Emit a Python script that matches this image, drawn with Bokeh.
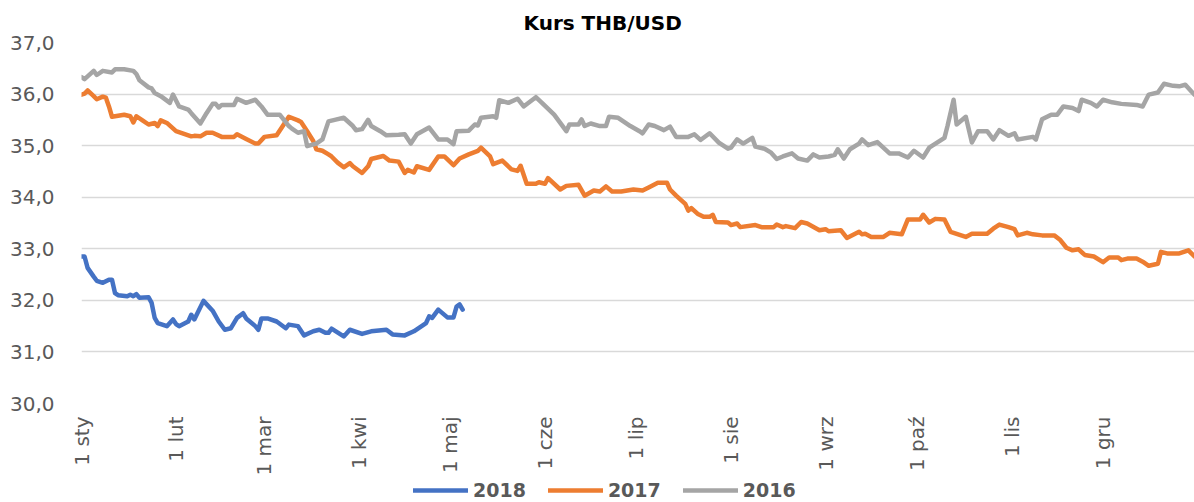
import math
from bokeh.plotting import figure
from bokeh.layouts import column
from bokeh.models import Range1d, FixedTicker, Legend, LegendItem
from bokeh.embed import file_html
from bokeh.resources import INLINE

# ---- axis categories / tick labels ----
month_days = [0, 31, 60, 91, 121, 152, 182, 213, 244, 274, 305, 335]
month_labels = ["1 sty", "1 lut", "1 mar", "1 kwi", "1 maj", "1 cze",
                "1 lip", "1 sie", "1 wrz", "1 paź", "1 lis", "1 gru"]
y_ticks = [30, 31, 32, 33, 34, 35, 36, 37]
y_tick_labels = ["30,0", "31,0", "32,0", "33,0", "34,0", "35,0", "36,0", "37,0"]

# ---- series (day of year, THB per USD) ----
days_2016 = [0, 1, 4, 5, 7, 10, 11, 14, 17, 18, 19, 22, 23, 24, 26, 29, 30, 32, 35, 36,
             39, 41, 43, 44, 45, 46, 50, 51, 54, 57, 59, 61, 65, 68, 69, 71, 73, 74, 77, 79,
             81, 83, 86, 89, 90, 92, 94, 95, 98, 100, 104, 106, 108, 110, 114, 117, 120, 122, 123, 127,
             129, 130, 131, 135, 136, 137, 140, 143, 145, 149, 151, 155, 159, 160, 163, 164, 165, 167, 170, 172,
             173, 176, 180, 183, 184, 186, 188, 191, 193, 195, 199, 201, 203, 206, 209, 212, 213, 215, 217, 220,
             221, 224, 226, 228, 230, 233, 235, 238, 240, 242, 245, 247, 248, 250, 252, 255, 256, 258, 261, 265,
             268, 271, 273, 276, 278, 283, 284, 286, 287, 290, 292, 294, 297, 299, 301, 304, 306, 307, 312, 313,
             315, 318, 320, 322, 325, 327, 328, 331, 333, 335, 338, 341, 346, 348, 350, 353, 355, 358, 360, 362,
             364, 365]
vals_2016 = [36.33, 36.29, 36.45, 36.37, 36.45, 36.42, 36.48, 36.48, 36.45, 36.39,
             36.27, 36.13, 36.11, 36.02, 35.96, 35.83, 35.99, 35.76, 35.70, 35.63,
             35.43, 35.63, 35.81, 35.81, 35.74, 35.79, 35.79, 35.91, 35.83, 35.89,
             35.76, 35.60, 35.60, 35.38, 35.33, 35.25, 35.28, 34.99, 35.04, 35.12,
             35.47, 35.50, 35.54, 35.38, 35.30, 35.32, 35.50, 35.38, 35.28, 35.20,
             35.21, 35.22, 35.04, 35.22, 35.35, 35.12, 35.12, 35.03, 35.28, 35.29,
             35.41, 35.39, 35.54, 35.57, 35.54, 35.88, 35.83, 35.91, 35.76, 35.94,
             35.83, 35.60, 35.28, 35.41, 35.41, 35.51, 35.38, 35.43, 35.38, 35.38,
             35.56, 35.54, 35.38, 35.28, 35.24, 35.41, 35.38, 35.30, 35.37, 35.17,
             35.17, 35.22, 35.11, 35.24, 35.06, 34.94, 34.96, 35.12, 35.04, 35.15,
             34.98, 34.94, 34.87, 34.74, 34.79, 34.85, 34.75, 34.71, 34.83, 34.77,
             34.79, 34.82, 34.93, 34.75, 34.93, 35.04, 35.12, 35.01, 35.07, 34.85,
             34.85, 34.77, 34.90, 34.77, 34.96, 35.15, 35.38, 35.89, 35.41, 35.56,
             35.06, 35.28, 35.28, 35.12, 35.30, 35.19, 35.24, 35.12, 35.17, 35.12,
             35.51, 35.60, 35.60, 35.76, 35.73, 35.67, 35.89, 35.83, 35.76, 35.89,
             35.84, 35.81, 35.79, 35.76, 35.99, 36.03, 36.20, 36.16, 36.15, 36.18,
             36.05, 35.99]

days_2017 = [0, 1, 2, 4, 5, 7, 8, 9, 10, 14, 16, 17, 18, 20, 22, 24, 25, 26, 28, 31,
             36, 37, 39, 41, 43, 46, 50, 51, 54, 57, 58, 60, 64, 66, 68, 71, 72, 74, 76, 77,
             79, 81, 82, 84, 86, 88, 89, 92, 94, 95, 99, 101, 104, 106, 107, 109, 110, 114, 117, 119,
             122, 124, 127, 130, 131, 134, 135, 138, 141, 143, 144, 146, 149, 150, 152, 153, 157, 159, 163, 165,
             168, 170, 172, 174, 177, 181, 184, 186, 189, 192, 193, 195, 198, 199, 200, 202, 204, 206, 207, 208,
             212, 213, 215, 216, 221, 223, 227, 228, 230, 231, 234, 236, 238, 242, 244, 245, 249, 251, 255, 256,
             257, 259, 263, 265, 269, 271, 275, 276, 278, 280, 283, 285, 287, 290, 292, 297, 299, 301, 304, 306,
             307, 310, 312, 315, 319, 321, 323, 325, 327, 329, 332, 335, 337, 340, 341, 343, 346, 348, 350, 353,
             354, 356, 360, 363, 365]
vals_2017 = [35.99, 36.01, 36.07, 35.96, 35.90, 35.95, 35.93, 35.76, 35.56, 35.60,
             35.57, 35.45, 35.57, 35.49, 35.41, 35.44, 35.38, 35.49, 35.44, 35.28,
             35.18, 35.19, 35.18, 35.25, 35.25, 35.17, 35.17, 35.22, 35.13, 35.04,
             35.04, 35.17, 35.20, 35.38, 35.56, 35.49, 35.46, 35.28, 35.09, 34.93,
             34.90, 34.83, 34.79, 34.67, 34.58, 34.66, 34.60, 34.47, 34.60, 34.74,
             34.80, 34.71, 34.69, 34.47, 34.53, 34.48, 34.60, 34.53, 34.79, 34.79,
             34.62, 34.75, 34.83, 34.90, 34.96, 34.79, 34.64, 34.71, 34.54, 34.51,
             34.61, 34.26, 34.26, 34.29, 34.26, 34.37, 34.15, 34.22, 34.24, 34.03,
             34.13, 34.11, 34.21, 34.11, 34.11, 34.15, 34.13, 34.19, 34.28, 34.28,
             34.15, 34.03, 33.87, 33.74, 33.79, 33.68, 33.62, 33.62, 33.66, 33.52,
             33.51, 33.46, 33.49, 33.42, 33.46, 33.42, 33.42, 33.47, 33.42, 33.44,
             33.40, 33.52, 33.49, 33.36, 33.38, 33.34, 33.36, 33.21, 33.33, 33.28,
             33.29, 33.23, 33.23, 33.31, 33.28, 33.57, 33.57, 33.66, 33.51, 33.58,
             33.57, 33.33, 33.29, 33.23, 33.29, 33.29, 33.39, 33.47, 33.42, 33.38,
             33.26, 33.31, 33.28, 33.26, 33.26, 33.17, 33.02, 32.97, 32.99, 32.88,
             32.85, 32.74, 32.83, 32.83, 32.78, 32.81, 32.81, 32.75, 32.67, 32.71,
             32.94, 32.91, 32.91, 32.97, 32.85]

days_2018 = [0, 1, 2, 4, 5, 7, 9, 10, 11, 12, 15, 16, 17, 18, 19, 22, 23, 24, 25, 28,
             30, 31, 32, 35, 36, 37, 40, 43, 45, 47, 49, 51, 53, 54, 57, 58, 59, 61, 64, 67,
             68, 71, 73, 76, 78, 80, 81, 82, 86, 88, 92, 95, 100, 102, 106, 109, 113, 114, 115, 117,
             120, 122, 123, 124, 125]
vals_2018 = [32.85, 32.85, 32.63, 32.46, 32.38, 32.34, 32.40, 32.40, 32.14, 32.10,
             32.08, 32.11, 32.08, 32.12, 32.05, 32.06, 31.95, 31.66, 31.56, 31.50,
             31.63, 31.54, 31.50, 31.59, 31.72, 31.63, 31.99, 31.80, 31.59, 31.43,
             31.46, 31.66, 31.75, 31.65, 31.50, 31.43, 31.65, 31.65, 31.59, 31.46,
             31.53, 31.50, 31.32, 31.40, 31.43, 31.37, 31.37, 31.45, 31.30, 31.43,
             31.35, 31.40, 31.43, 31.34, 31.32, 31.40, 31.56, 31.69, 31.66, 31.82,
             31.67, 31.67, 31.88, 31.92, 31.82]

series_names = ["2018", "2017", "2016"]
series_colors = ["#4472C4", "#ED7D31", "#A5A5A5"]
series_days = [days_2018, days_2017, days_2016]
series_vals = [vals_2018, vals_2017, vals_2016]

FONT = "DejaVu Sans"
LABEL_COLOR = "#595959"
LW = 4.5

# ---------------- main chart ----------------
p = figure(width=1194, height=478, output_backend="svg", toolbar_location=None,
           x_range=Range1d(0, 365), y_range=Range1d(30, 37),
           min_border_left=81, min_border_right=0, min_border_top=42, min_border_bottom=72,
           title="Kurs THB/USD")
p.outline_line_color = None
p.background_fill_color = "white"
p.border_fill_color = "white"

p.title.align = "left"
p.title.offset = 442
p.title.text_font = FONT
p.title.text_font_size = "20px"
p.title.text_font_style = "bold"
p.title.text_color = "#000000"
p.title.standoff = 16

p.yaxis.ticker = FixedTicker(ticks=y_ticks, minor_ticks=[])
p.yaxis.major_label_overrides = {t: l for t, l in zip(y_ticks, y_tick_labels)}
p.yaxis.axis_line_color = None
p.yaxis.major_tick_line_color = None
p.yaxis.minor_tick_line_color = None
p.yaxis.major_tick_in = 0
p.yaxis.major_tick_out = 0
p.yaxis.major_label_standoff = 27
p.yaxis.major_label_text_font = FONT
p.yaxis.major_label_text_font_size = "20px"
p.yaxis.major_label_text_color = LABEL_COLOR

p.xaxis.ticker = FixedTicker(ticks=month_days, minor_ticks=[])
p.xaxis.major_label_overrides = {d: l for d, l in zip(month_days, month_labels)}
p.xaxis.major_label_orientation = math.pi / 2
p.xaxis.axis_line_color = None
p.xaxis.major_tick_line_color = None
p.xaxis.minor_tick_line_color = None
p.xaxis.major_tick_in = 0
p.xaxis.major_tick_out = 0
p.xaxis.major_label_standoff = 13
p.xaxis.major_label_text_font = FONT
p.xaxis.major_label_text_font_size = "20px"
p.xaxis.major_label_text_color = LABEL_COLOR

p.xgrid.grid_line_color = None
p.ygrid.ticker = FixedTicker(ticks=y_ticks, minor_ticks=[])
p.ygrid.grid_line_color = "#D9D9D9"
p.ygrid.grid_line_width = 1.5

for d, v, c in zip(series_days, series_vals, series_colors):
    p.line(d, v, line_color=c, line_width=LW, line_join="round", line_cap="round")

# ---------------- legend strip ----------------
lg = figure(width=1194, height=24, output_backend="svg", toolbar_location=None,
            x_range=Range1d(0, 1), y_range=Range1d(0, 1),
            min_border=0, min_border_left=0, min_border_right=0,
            min_border_top=0, min_border_bottom=0,
            x_axis_location=None, y_axis_location=None)
lg.outline_line_color = None
lg.xgrid.visible = False
lg.ygrid.visible = False
lg.background_fill_color = "white"
lg.border_fill_color = "white"

# same series drawn in the legend strip, outside its visible range (only their legend swatches show)
rends = [lg.line(d, v, line_color=c, line_width=LW, line_cap="round")
         for d, v, c in zip(series_days, series_vals, series_colors)]
legend = Legend(items=[LegendItem(label=n, renderers=[r]) for n, r in zip(series_names, rends)],
                orientation="horizontal", location=(332, 1),
                glyph_width=55, glyph_height=16, label_height=16, label_standoff=5, spacing=22,
                padding=0, margin=0, border_line_color=None, background_fill_alpha=0,
                label_text_font=FONT, label_text_font_size="19px",
                label_text_font_style="bold", label_text_color=LABEL_COLOR)
lg.add_layout(legend, "center")

layout = column(p, lg, spacing=0)
open("out.html", "w").write(file_html(layout, INLINE))
